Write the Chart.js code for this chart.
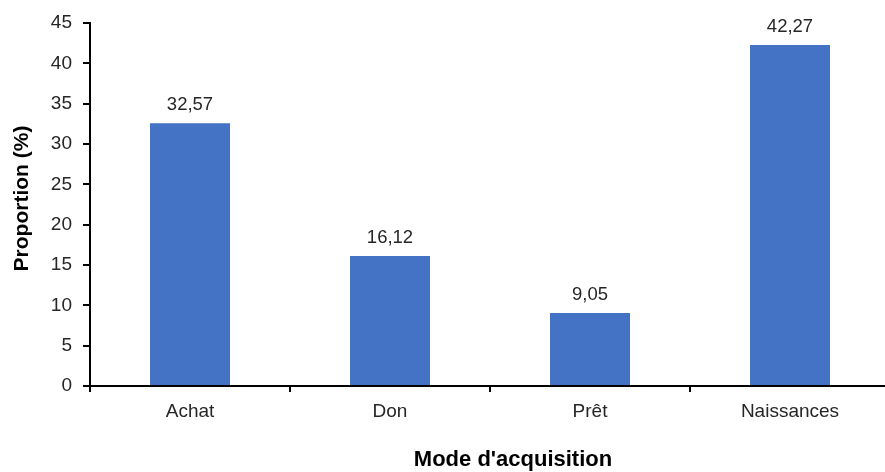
<!DOCTYPE html>
<html>
<head>
<meta charset="utf-8">
<script src="https://cdn.jsdelivr.net/npm/chart.js@4/dist/chart.umd.min.js"></script>
<style>
html,body{margin:0;padding:0;background:#fff;overflow:hidden;}
#wrap{width:890px;height:472px;}
</style>
</head>
<body>
<div id="wrap"><canvas id="c" width="890" height="472"></canvas></div>
<script>
const categories = ["Achat", "Don", "Prêt", "Naissances"];
const proportions = [32.57, 16.12, 9.05, 42.27];
const yTicks = [0, 5, 10, 15, 20, 25, 30, 35, 40, 45];
const xTitle = "Mode d'acquisition";
const yTitle = "Proportion (%)";

const FONT = "'Liberation Sans', Arial, sans-serif";
const TXT = '#262626';

const valueLabels = {
  id: 'valueLabels',
  afterDatasetsDraw(chart) {
    const ctx = chart.ctx;
    ctx.save();
    ctx.font = "18.5px " + FONT;
    ctx.fillStyle = TXT;
    ctx.textAlign = 'center';
    ctx.textBaseline = 'alphabetic';
    chart.getDatasetMeta(0).data.forEach((bar, i) => {
      const v = chart.data.datasets[0].data[i];
      ctx.fillText(v.toFixed(2).replace('.', ','), bar.x, bar.y - 13);
    });
    ctx.restore();
  }
};

const axisTitles = {
  id: 'axisTitles',
  afterDraw(chart) {
    const ctx = chart.ctx;
    const a = chart.chartArea;
    ctx.save();
    ctx.fillStyle = '#000';
    ctx.textAlign = 'center';
    ctx.textBaseline = 'middle';
    ctx.font = "bold 22px " + FONT;
    ctx.fillText(xTitle, a.left + (a.right - a.left) * 0.5 + 23, 460);
    ctx.font = "bold 21px " + FONT;
    ctx.translate(22, a.top + (a.bottom - a.top) * 0.5 - 6);
    ctx.rotate(-Math.PI / 2);
    ctx.fillText(yTitle, 0, 0);
    ctx.restore();
  }
};

new Chart(document.getElementById('c'), {
  type: 'bar',
  data: {
    labels: categories,
    datasets: [{
      data: proportions,
      backgroundColor: '#4472C4',
      barPercentage: 0.4,
      categoryPercentage: 1.0
    }]
  },
  options: {
    responsive: false,
    animation: false,
    events: [],
    layout: { padding: { top: 23, left: 0, right: 0, bottom: 0 } },
    plugins: { legend: { display: false }, tooltip: { enabled: false } },
    scales: {
      x: {
        border: { display: true, color: '#000', width: 2 },
        grid: { display: true, drawOnChartArea: false, drawTicks: true, tickLength: 6, color: '#000', lineWidth: 2, offset: true },
        ticks: { color: TXT, font: { family: FONT, size: 19 }, padding: 8, maxRotation: 0 },
        title: { display: false },
        afterFit(scale) { scale.height = 86; }
      },
      y: {
        min: 0, max: 45,
        afterBuildTicks(scale) { scale.ticks = yTicks.map(v => ({ value: v })); },
        border: { display: true, color: '#000', width: 2 },
        grid: { display: true, drawOnChartArea: false, drawTicks: true, tickLength: 7, color: '#000', lineWidth: 2 },
        ticks: { color: TXT, font: { family: FONT, size: 19 }, padding: 11, callback: v => String(v) },
        title: { display: false },
        afterFit(scale) { scale.width = 90; }
      }
    }
  },
  plugins: [valueLabels, axisTitles]
});
</script>
</body>
</html>
